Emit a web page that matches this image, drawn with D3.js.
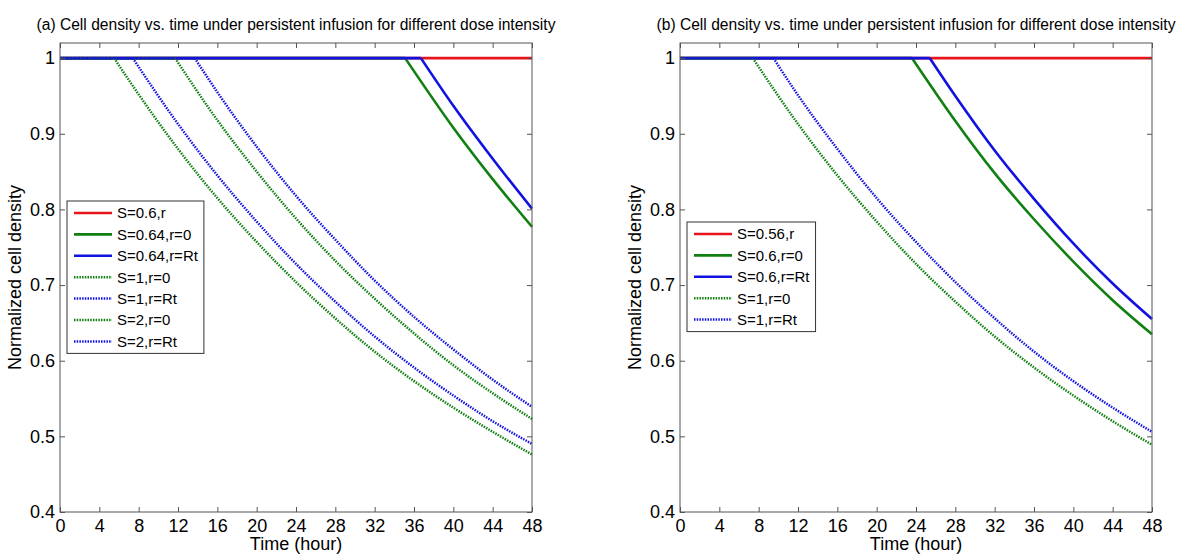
<!DOCTYPE html>
<html>
<head>
<meta charset="utf-8">
<script src="https://cdn.jsdelivr.net/npm/d3@7"></script>
<style>
  html, body { margin: 0; padding: 0; background: #fff; }
  svg { display: block; font-family: "Liberation Sans", Arial, sans-serif; }
</style>
</head>
<body>
<svg id="chart" width="1200" height="555"></svg>
<script>
// tick values
const xTicks = [0, 4, 8, 12, 16, 20, 24, 28, 32, 36, 40, 44, 48];
const yTicks = [0.4, 0.5, 0.6, 0.7, 0.8, 0.9, 1];

const titleA = "(a) Cell density vs. time under persistent infusion for different dose intensity";
const titleB = "(b) Cell density vs. time under persistent infusion for different dose intensity";

// panel (a) series: [hour, normalized density]
const aS06 = [[0, 1], [48, 1]];
const aS064r0 = [[0, 1], [35.1, 1], [40, 0.908], [44, 0.840], [48, 0.777]];
const aS064rRt = [[0, 1], [36.7, 1], [40, 0.937], [44, 0.867], [48, 0.801]];
const aS1r0 = [[0, 1], [11.7, 1], [16, 0.918], [20, 0.850], [24, 0.788], [28, 0.732], [32, 0.682], [36, 0.636], [40, 0.594], [44, 0.557], [48, 0.523]];
const aS1rRt = [[0, 1], [13.7, 1], [16, 0.955], [20, 0.883], [24, 0.818], [28, 0.760], [32, 0.706], [36, 0.658], [40, 0.615], [44, 0.575], [48, 0.539]];
const aS2r0 = [[0, 1], [5.5, 1], [8, 0.952], [12, 0.880], [16, 0.815], [20, 0.757], [24, 0.704], [28, 0.656], [32, 0.612], [36, 0.573], [40, 0.538], [44, 0.506], [48, 0.476]];
const aS2rRt = [[0, 1], [7.4, 1], [12, 0.913], [16, 0.845], [20, 0.784], [24, 0.728], [28, 0.678], [32, 0.632], [36, 0.591], [40, 0.554], [44, 0.520], [48, 0.490]];
const labelsA = ["S=0.6,r", "S=0.64,r=0", "S=0.64,r=Rt", "S=1,r=0", "S=1,r=Rt", "S=2,r=0", "S=2,r=Rt"];

// panel (b) series
const bS056 = [[0, 1], [48, 1]];
const bS06r0 = [[0, 1], [23.6, 1], [28, 0.917], [32, 0.848], [36, 0.787], [40, 0.731], [44, 0.680], [48, 0.635]];
const bS06rRt = [[0, 1], [25.4, 1], [28, 0.950], [32, 0.878], [36, 0.814], [40, 0.755], [44, 0.702], [48, 0.655]];
const bS1r0 = [[0, 1], [7.4, 1], [12, 0.913], [16, 0.845], [20, 0.784], [24, 0.728], [28, 0.678], [32, 0.632], [36, 0.591], [40, 0.554], [44, 0.520], [48, 0.489]];
const bS1rRt = [[0, 1], [9.5, 1], [12, 0.951], [16, 0.880], [20, 0.815], [24, 0.757], [28, 0.704], [32, 0.656], [36, 0.612], [40, 0.573], [44, 0.538], [48, 0.506]];
const labelsB = ["S=0.56,r", "S=0.6,r=0", "S=0.6,r=Rt", "S=1,r=0", "S=1,r=Rt"];

const RED = "#e8141b", GREEN = "#108010", BLUE = "#1212e0";
const AXIS = "#555";
const SOLID_W = 2.6, DOT_W = 2.5, DOT_DASH = "1.5,1.2";

const svg = d3.select("#chart");

function curvePath(pts, x, y) {
  // flat part straight, decay part smooth (keeps the kink at onset)
  const k = pts.findIndex(p => p[1] < 1);
  const lin = d3.line().x(d => x(d[0])).y(d => y(d[1]));
  if (k < 0) return lin(pts);
  const smooth = d3.line().x(d => x(d[0])).y(d => y(d[1])).curve(d3.curveMonotoneX);
  return lin(pts.slice(0, k)) + smooth(pts.slice(k - 1));
}

function drawPanel(opt) {
  const x = d3.scaleLinear().domain([0, 48]).range([opt.left, opt.left + 472]);
  const y = d3.scaleLinear().domain([0.4, 1.02]).range([512, 43]);
  const g = svg.append("g");

  // curves
  opt.series.forEach(s => {
    g.append("path")
      .attr("d", curvePath(s.data, x, y))
      .attr("fill", "none")
      .attr("stroke", s.color)
      .attr("stroke-width", s.dotted ? DOT_W : SOLID_W)
      .attr("stroke-dasharray", s.dotted ? DOT_DASH : null);
  });

  // axes, ticks pointing inward on all four sides
  const fmt = d => String(d);
  g.append("g").attr("transform", "translate(0,512)")
    .call(d3.axisBottom(x).tickValues(xTicks).tickFormat(fmt).tickSizeInner(-5).tickSizeOuter(0).tickPadding(7));
  g.append("g").attr("transform", "translate(0,43)")
    .call(d3.axisTop(x).tickValues(xTicks).tickFormat("").tickSizeInner(-5).tickSizeOuter(0));
  g.append("g").attr("transform", `translate(${opt.left},0)`)
    .call(d3.axisLeft(y).tickValues(yTicks).tickFormat(fmt).tickSizeInner(-5).tickSizeOuter(0).tickPadding(5));
  g.append("g").attr("transform", `translate(${opt.left + 472},0)`)
    .call(d3.axisRight(y).tickValues(yTicks).tickFormat("").tickSizeInner(-5).tickSizeOuter(0));
  g.selectAll(".domain").remove();
  g.selectAll(".tick line").attr("stroke", AXIS);
  g.selectAll(".tick text").attr("fill", "#000").style("font-size", "18px")
    .style("font-family", '"Liberation Sans", Arial, sans-serif');
  g.append("rect")
    .attr("x", opt.left).attr("y", 43).attr("width", 472).attr("height", 469)
    .attr("fill", "none").attr("stroke", AXIS).attr("stroke-width", 1);

  // title and axis labels
  g.append("text").attr("x", opt.left + 236).attr("y", 30)
    .attr("text-anchor", "middle").style("font-size", "15.6px").text(opt.title);
  g.append("text").attr("x", opt.left + 236).attr("y", 550)
    .attr("text-anchor", "middle").style("font-size", "18px").text("Time (hour)");
  g.append("text")
    .attr("transform", `translate(${opt.left - 39},277.5) rotate(-90)`)
    .attr("text-anchor", "middle").style("font-size", "18px").text("Normalized cell density");

  // legend
  const rowH = 21.4;
  const lg = g.append("g");
  const box = lg.append("rect")
    .attr("x", opt.legX).attr("y", opt.legY)
    .attr("height", 24 + (opt.series.length - 1) * rowH)
    .attr("fill", "#fff").attr("stroke", "#333").attr("stroke-width", 1);
  let maxRight = 0;
  opt.series.forEach((s, i) => {
    const ry = opt.legY + 12 + i * rowH;
    lg.append("line")
      .attr("x1", opt.legX + 7).attr("x2", opt.legX + 45)
      .attr("y1", ry).attr("y2", ry)
      .attr("stroke", s.color)
      .attr("stroke-width", s.dotted ? DOT_W : SOLID_W)
      .attr("stroke-dasharray", s.dotted ? DOT_DASH : null);
    const t = lg.append("text")
      .attr("x", opt.legX + 50).attr("y", ry).attr("dy", "0.36em")
      .style("font-size", "15px").text(opt.labels[i]);
    maxRight = Math.max(maxRight, opt.legX + 50 + t.node().getComputedTextLength());
  });
  box.attr("width", maxRight + 6 - opt.legX);
}

drawPanel({
  left: 60, title: titleA, legX: 67, legY: 201, labels: labelsA,
  series: [
    { data: aS06, color: RED },
    { data: aS064r0, color: GREEN },
    { data: aS064rRt, color: BLUE },
    { data: aS1r0, color: GREEN, dotted: true },
    { data: aS1rRt, color: BLUE, dotted: true },
    { data: aS2r0, color: GREEN, dotted: true },
    { data: aS2rRt, color: BLUE, dotted: true }
  ]
});

drawPanel({
  left: 680, title: titleB, legX: 687, legY: 222, labels: labelsB,
  series: [
    { data: bS056, color: RED },
    { data: bS06r0, color: GREEN },
    { data: bS06rRt, color: BLUE },
    { data: bS1r0, color: GREEN, dotted: true },
    { data: bS1rRt, color: BLUE, dotted: true }
  ]
});

// faint caption cut off at the bottom edge
svg.append("text").attr("x", 67).attr("y", 566)
  .style("font-size", "14px").attr("fill", "#aaa").text("Figure 2");
</script>
</body>
</html>
